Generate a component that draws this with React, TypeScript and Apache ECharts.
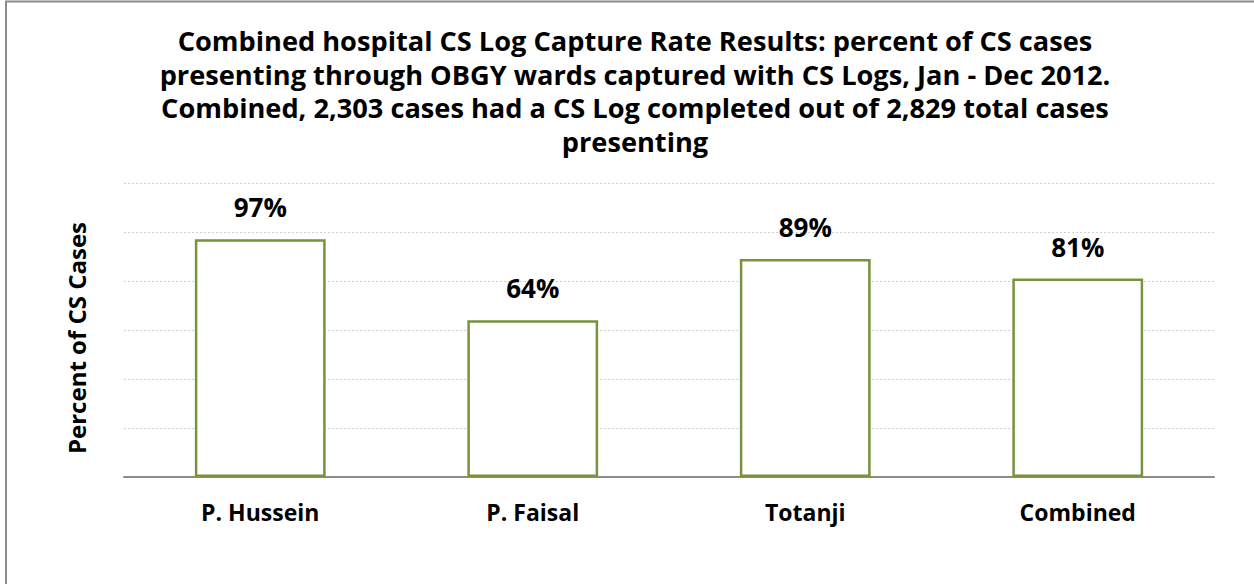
import React, { useEffect, useRef } from "react";
import * as echarts from "echarts";

const categories = ["P. Hussein", "P. Faisal", "Totanji", "Combined"];
const captureRates = [97, 64, 89, 81];
const titleLines = [
  "Combined hospital CS Log Capture Rate Results: percent of CS cases",
  "presenting through OBGY wards captured with CS Logs, Jan - Dec 2012.",
  "Combined, 2,303 cases had a CS Log completed out of 2,829 total cases",
  "presenting",
];
const yAxisName = "Percent of CS Cases";

const FONT = "'Open Sans', 'Noto Sans', sans-serif";

export default function App() {
  const ref = useRef<HTMLDivElement>(null);
  useEffect(() => {
    document.body.style.margin = "0";
    const chart = echarts.init(ref.current!, null, { renderer: "svg" });
    chart.setOption({
      animation: false,
      backgroundColor: "#ffffff",
      graphic: [
        {
          type: "rect",
          shape: { x: 6, y: 1.5, width: 1300, height: 700 },
          style: { fill: "none", stroke: "#8c8c8c", lineWidth: 2 },
          silent: true,
        },
      ],
      title: {
        text: titleLines.join("\n"),
        left: 630,
        textAlign: "center",
        top: 19,
        textStyle: {
          fontFamily: FONT,
          fontWeight: "bold",
          fontSize: 27.2,
          lineHeight: 33.5,
          color: "#000",
        },
      },
      grid: { left: 124, right: 40, top: 183, bottom: 107, containLabel: false },
      xAxis: {
        type: "category",
        data: categories,
        axisLine: { lineStyle: { color: "#8c8c8c", width: 2 } },
        axisTick: { show: false },
        axisLabel: {
          fontFamily: FONT,
          fontWeight: "bold",
          fontSize: 23,
          color: "#000",
          margin: 23,
        },
      },
      yAxis: {
        type: "value",
        min: 0,
        max: 120,
        interval: 20,
        name: yAxisName,
        nameLocation: "middle",
        nameGap: 36,
        nameTextStyle: {
          fontFamily: FONT,
          fontWeight: "bold",
          fontSize: 24,
          color: "#000",
          padding: [0, 16, 0, 0],
        },
        axisLabel: { show: false },
        axisLine: { show: false },
        axisTick: { show: false },
        splitLine: { lineStyle: { color: "#d0d0d0", type: [2, 2], width: 1 } },
      },
      series: [
        {
          type: "bar",
          data: captureRates,
          barWidth: "48%",
          itemStyle: { color: "#ffffff", borderColor: "#77933c", borderWidth: 2.5 },
          label: {
            show: true,
            position: "top",
            distance: 19,
            formatter: "{c}%",
            fontFamily: FONT,
            fontWeight: "bold",
            fontSize: 26,
            color: "#000",
          },
        },
      ],
    });
    return () => chart.dispose();
  }, []);
  return <div ref={ref} style={{ width: 1254, height: 584 }} />;
}
